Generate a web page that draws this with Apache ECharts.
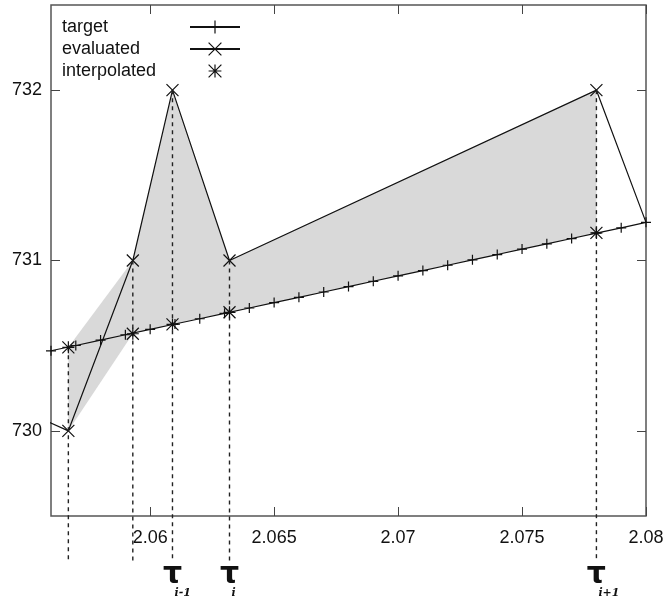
<!DOCTYPE html>
<html>
<head>
<meta charset="utf-8">
<script src="https://cdn.jsdelivr.net/npm/echarts@6/dist/echarts.min.js"></script>
<style>
  html, body { margin: 0; padding: 0; background: #fff; }
  #chart { width: 667px; height: 602px; }
</style>
</head>
<body>
<div id="chart"></div>
<script>
// Target curve, sampled every 0.001
const targetX = [2.056, 2.057, 2.058, 2.059, 2.060, 2.061, 2.062, 2.063, 2.064, 2.065,
                 2.066, 2.067, 2.068, 2.069, 2.070, 2.071, 2.072, 2.073, 2.074, 2.075,
                 2.076, 2.077, 2.078, 2.079, 2.080];
const targetY = [730.470, 730.501, 730.533, 730.564, 730.596, 730.627, 730.658, 730.690, 730.721, 730.753,
                 730.784, 730.815, 730.847, 730.878, 730.910, 730.941, 730.972, 731.004, 731.035, 731.067,
                 731.098, 731.129, 731.161, 731.192, 731.224];

// Evaluated curve; its first and last entries only continue the polyline
const evaluatedX = [2.0550, 2.0567, 2.0593, 2.0609, 2.0632, 2.0780, 2.0800];
const evaluatedY = [730.11, 730.00, 731.00, 732.00, 731.00, 732.00, 731.224];

// Sample abscissae with the evaluated and interpolated values there
const sampleX = [2.0567, 2.0593, 2.0609, 2.0632, 2.0780];
const sampleEvaluated = [730, 731, 732, 731, 732];
const interpolatedY = [730.49, 730.57, 730.625, 730.696, 731.162];
const sampleSubscripts = ['', '', 'i-1', 'i', 'i+1'];
const shadedSamples = 5;          // band shaded across samples 0..4

const xTicks = [2.06, 2.065, 2.07, 2.075, 2.08];
const yTicks = [730, 731, 732];
const xRange = [2.056, 2.08];
const yRange = [729.5, 732.5];
const guideEnd = 729.23;          // sample guides run below the x axis down to here

// Stroke-only marker glyphs
const PLUS = 'path://M0,5L10,5M5,0L5,10';
const CROSS = 'path://M0,0L10,10M10,0L0,10';
const STAR = 'path://M0,0L10,10M10,0L0,10M5,0L5,10M0,5L10,5';

const INK = '#111';
const FONT = '"Liberation Sans", Arial, sans-serif';

const targetData = targetX.map((x, i) => [x, targetY[i]]);
const evaluatedData = evaluatedX.map((x, i) => {
  const inner = i > 0 && i < evaluatedX.length - 1;
  return inner ? [x, evaluatedY[i]] : { value: [x, evaluatedY[i]], symbol: 'none' };
});
const interpolatedData = sampleX.map((x, i) => [x, interpolatedY[i]]);

// Band between the upper and lower of (evaluated, interpolated) at consecutive samples
const bandData = [];
for (let i = 0; i + 1 < shadedSamples; i++) {
  const hi0 = Math.max(sampleEvaluated[i], interpolatedY[i]);
  const lo0 = Math.min(sampleEvaluated[i], interpolatedY[i]);
  const hi1 = Math.max(sampleEvaluated[i + 1], interpolatedY[i + 1]);
  const lo1 = Math.min(sampleEvaluated[i + 1], interpolatedY[i + 1]);
  bandData.push([sampleX[i], hi0, lo0, sampleX[i + 1], hi1, lo1]);
}

const guideData = sampleX.map((x, i) => [x, Math.max(sampleEvaluated[i], interpolatedY[i])]);

const markerStyle = { color: INK, borderColor: INK, borderWidth: 1.2 };

const chart = echarts.init(document.getElementById('chart'), null, { renderer: 'canvas' });

const baseX = {
  type: 'value', min: xRange[0], max: xRange[1],
  splitLine: { show: false }, axisLine: { show: false },
  axisTick: { inside: true, length: 9, lineStyle: { color: '#444', width: 1 }, customValues: xTicks }
};
const baseY = {
  type: 'value', min: yRange[0], max: yRange[1],
  splitLine: { show: false }, axisLine: { show: false },
  axisTick: { inside: true, length: 9, lineStyle: { color: '#444', width: 1 }, customValues: yTicks }
};

chart.setOption({
  animation: false,
  backgroundColor: '#fff',
  grid: { left: 51, right: 21, top: 5, bottom: 86, show: true, borderColor: '#555', borderWidth: 1.5 },
  legend: {
    orient: 'vertical', left: 62, top: 18, padding: 0,
    align: 'right', itemWidth: 50, itemHeight: 16, itemGap: 4,
    selectedMode: false,
    data: ['target', 'evaluated', 'interpolated'],
    formatter: name => '{n|' + name + '}',
    textStyle: {
      color: INK, fontFamily: FONT, fontSize: 18,
      rich: { n: { width: 123, align: 'left', fontSize: 18, lineHeight: 18, fontFamily: FONT, color: INK } }
    },
    itemStyle: { borderWidth: 1.2 }
  },
  xAxis: [
    Object.assign({}, baseX, {
      position: 'bottom',
      axisLabel: {
        customValues: xTicks, margin: 13, color: INK, fontFamily: FONT, fontSize: 18,
        formatter: v => String(v)
      }
    }),
    Object.assign({}, baseX, { position: 'top', axisLabel: { show: false } })
  ],
  yAxis: [
    Object.assign({}, baseY, {
      position: 'left',
      axisLabel: { customValues: yTicks, margin: 9, color: INK, fontFamily: FONT, fontSize: 18 }
    }),
    Object.assign({}, baseY, { position: 'right', axisLabel: { show: false } })
  ],
  series: [
    {
      name: 'band', type: 'custom', silent: true, z: 1,
      encode: { x: [0, 3], y: [1, 2, 4, 5] },
      renderItem: (params, api) => ({
        type: 'polygon',
        shape: { points: [
          api.coord([api.value(0), api.value(1)]),
          api.coord([api.value(3), api.value(4)]),
          api.coord([api.value(3), api.value(5)]),
          api.coord([api.value(0), api.value(2)])
        ] },
        style: { fill: '#d9d9d9' }
      }),
      data: bandData
    },
    {
      name: 'target', type: 'line', z: 3,
      data: targetData,
      symbol: PLUS, symbolSize: 10,
      itemStyle: markerStyle,
      lineStyle: { color: INK, width: 1.2 },
      emphasis: { disabled: true }
    },
    {
      name: 'evaluated', type: 'line', z: 4,
      data: evaluatedData,
      symbol: CROSS, symbolSize: 12,
      itemStyle: markerStyle,
      lineStyle: { color: INK, width: 1.2 },
      emphasis: { disabled: true }
    },
    {
      name: 'guides', type: 'custom', silent: true, z: 5, clip: false,
      encode: { x: 0, y: 1 },
      renderItem: (params, api) => {
        const x = api.value(0);
        const top = api.coord([x, api.value(1)]);
        const bot = api.coord([x, guideEnd]);
        const children = [{
          type: 'line',
          shape: { x1: top[0], y1: top[1], x2: bot[0], y2: bot[1] },
          style: { stroke: '#222', lineWidth: 1.4, lineDash: [4, 4] }
        }];
        const sub = sampleSubscripts[params.dataIndex];
        if (sub) {
          children.push({
            type: 'text',
            style: { text: 'τ', x: bot[0], y: bot[1] + 13, align: 'center', verticalAlign: 'middle',
                     font: 'bold 30px "DejaVu Sans"', fill: INK }
          });
          children.push({
            type: 'text',
            style: { text: sub, x: bot[0] + 2, y: bot[1] + 31, align: 'left', verticalAlign: 'middle',
                     font: 'italic bold 11px "DejaVu Serif"', fill: INK }
          });
        }
        return { type: 'group', children };
      },
      data: guideData
    },
    {
      name: 'interpolated', type: 'line', z: 6,
      data: interpolatedData,
      symbol: STAR, symbolSize: 12,
      itemStyle: markerStyle,
      lineStyle: { opacity: 0, width: 0 },
      emphasis: { disabled: true }
    }
  ]
});
</script>
</body>
</html>
